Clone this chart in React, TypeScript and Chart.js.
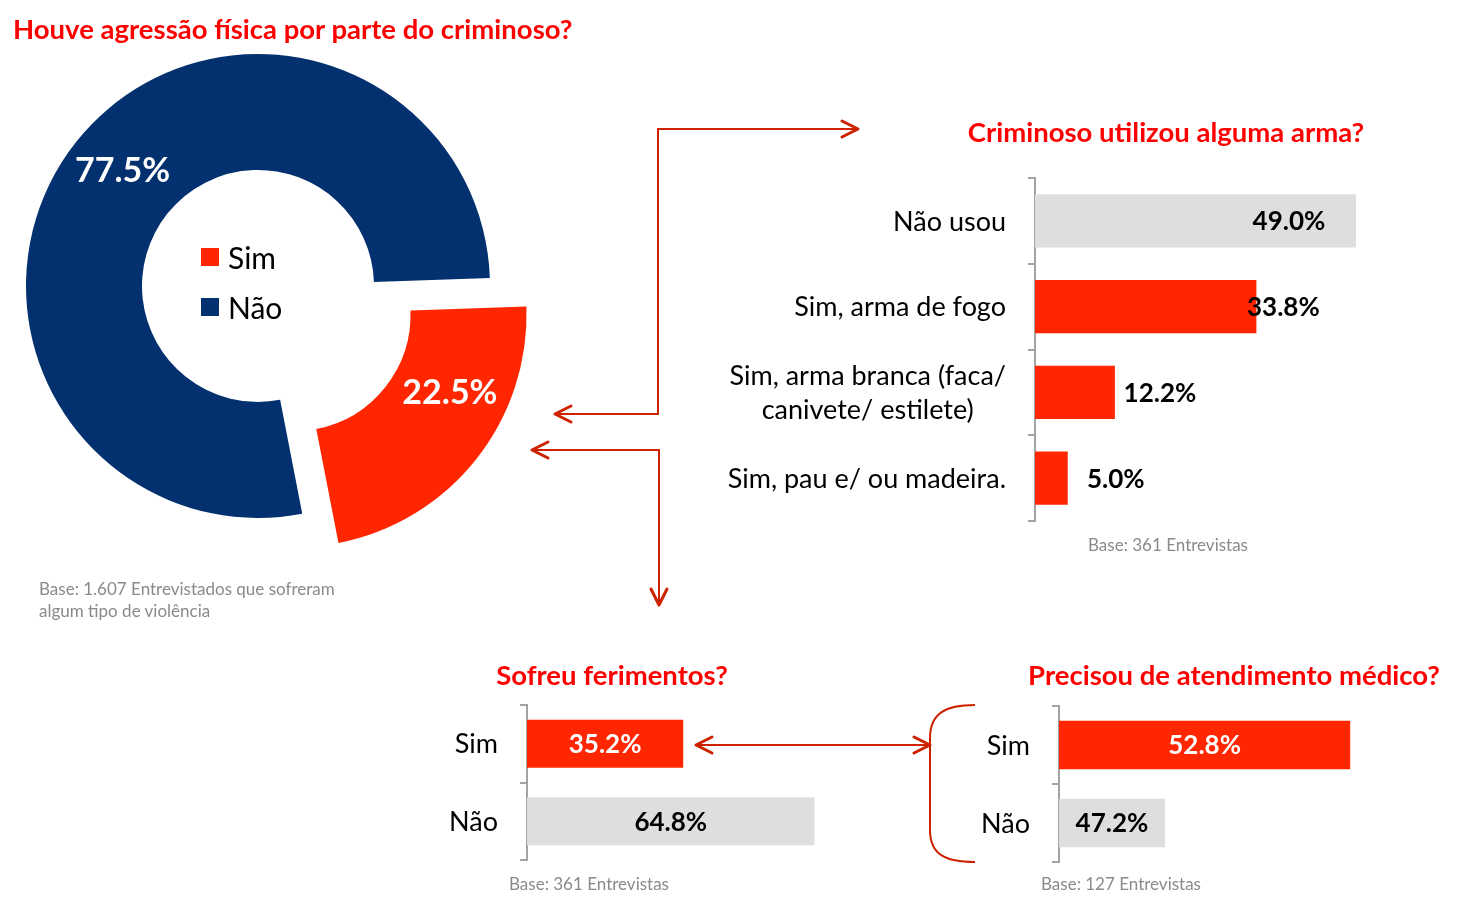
import React, { useEffect, useRef } from "react";
import { Chart, registerables } from "chart.js";
Chart.register(...registerables);

const FONT = "Lato, 'Open Sans', sans-serif";
const RED = "#ff2600";
const NAVY = "#03306f";
const GRAY = "#dedede";
const AXIS = "#a3a3a3";
const TITLE_RED = "#ff0000";
const ARROW = "#cc2200";
const BASE_GRAY = "#8a8a8a";

// ---- data ----
const agressaoLabels = ["Sim", "Não"];
const agressaoValues = [22.5, 77.5];

const armaLabels = [
  ["Não usou"],
  ["Sim, arma de fogo"],
  ["Sim, arma branca (faca/", "canivete/ estilete)"],
  ["Sim, pau e/ ou madeira."],
];
const armaValues = [49.0, 33.8, 12.2, 5.0];

const ferimentosLabels = ["Sim", "Não"];
const ferimentosValues = [35.2, 64.8];

const medicoLabels = ["Sim", "Não"];
const medicoValues = [52.8, 47.2];

const SIM_OFFSET_PX = 46;

const fmt = (v: number) => v.toFixed(1) + "%";

// ---- doughnut ----
const doughnutDecor = {
  id: "doughnutDecor",
  afterDatasetsDraw(chart: any, _args: any, o: any) {
    const ctx = chart.ctx;
    const meta = chart.getDatasetMeta(0);
    const ds = chart.data.datasets[0];
    ctx.save();
    ctx.textAlign = "center";
    ctx.textBaseline = "middle";
    ctx.fillStyle = "#ffffff";
    ctx.font = o.pctFont;
    meta.data.forEach((arc: any, i: number) => {
      const p = arc.getProps(["x", "y", "startAngle", "endAngle", "innerRadius", "outerRadius"], true);
      const mid = (p.startAngle + p.endAngle) / 2;
      const off = o.offsetPx[i] || 0;
      const ang = p.startAngle + (p.endAngle - p.startAngle) * o.labelFrac[i];
      const r = (p.innerRadius + p.outerRadius) / 2 + o.labelDr[i];
      const px = p.x + Math.cos(mid) * off + Math.cos(ang) * r;
      const py = p.y + Math.sin(mid) * off + Math.sin(ang) * r;
      ctx.fillText(fmt(ds.data[i]), px, py + 1);
    });
    // legend in the hole
    const c = meta.data[0];
    const cx = c.x;
    const cy = c.y;
    ctx.font = o.legendFont;
    ctx.textAlign = "left";
    const rows = [-29, 21];
    chart.data.labels.forEach((lab: string, i: number) => {
      ctx.fillStyle = ds.backgroundColor[i];
      ctx.fillRect(cx - 57, cy + rows[i] - 9, 18, 18);
      ctx.fillStyle = "#000";
      ctx.fillText(lab, cx - 30, cy + rows[i] + 2);
    });
    ctx.restore();
  },
};

function doughnutConfig(): any {
  return {
    type: "doughnut",
    data: {
      labels: agressaoLabels,
      datasets: [
        {
          data: agressaoValues,
          backgroundColor: [RED, NAVY],
          borderWidth: 0,
          offset: [SIM_OFFSET_PX * 4, 0],
        },
      ],
    },
    options: {
      animation: false,
      responsive: true,
      maintainAspectRatio: false,
      rotation: 88,
      radius: 232,
      cutout: "50%",
      layout: { padding: { left: 0, right: 84, top: 0, bottom: 28 } },
      plugins: {
        legend: { display: false },
        tooltip: { enabled: false },
        doughnutDecor: {
          pctFont: `bold 34px ${FONT}`,
          legendFont: `30px ${FONT}`,
          offsetPx: [SIM_OFFSET_PX, 0],
          labelFrac: [0.35, 0.507],
          labelDr: [0, 4],
        },
      },
    },
    plugins: [doughnutDecor],
  };
}

// ---- bars ----
const barDecor = {
  id: "barDecor",
  afterDatasetsDraw(chart: any, _args: any, o: any) {
    const ctx = chart.ctx;
    const meta = chart.getDatasetMeta(0);
    const yScale = chart.scales.y;
    const area = chart.chartArea;
    ctx.save();
    ctx.textBaseline = "middle";
    ctx.textAlign = "center";
    ctx.font = o.catFont;
    ctx.fillStyle = "#000";
    chart.data.labels.forEach((lab: any, i: number) => {
      const lines: string[] = Array.isArray(lab) ? lab : [lab];
      const maxW = Math.max(...lines.map((l) => ctx.measureText(l).width));
      const cx = area.left - o.catGap - maxW / 2;
      const cy = yScale.getPixelForValue(i);
      const n = lines.length;
      lines.forEach((l, k) => ctx.fillText(l, cx, cy + (k - (n - 1) / 2) * o.lineHeight + 1));
    });
    ctx.font = o.valFont;
    meta.data.forEach((bar: any, i: number) => {
      const p = bar.getProps(["x", "y", "base"], true);
      const b = Math.max(Math.min(p.base, p.x), area.left);
      const v = chart.data.datasets[0].data[i];
      const px = o.mode === "center" ? (p.x + b) / 2 : p.x + o.dx[i];
      ctx.fillStyle = o.valColors[i];
      ctx.fillText(fmt(v), px, p.y + 1);
    });
    ctx.restore();
  },
};

function barConfig(p: {
  labels: any[];
  values: number[];
  colors: string[];
  valColors: string[];
  mode: string;
  dx?: number[];
  min: number;
  max: number;
  axisWidth: number;
  padding: any;
  catGap: number;
}): any {
  return {
    type: "bar",
    data: {
      labels: p.labels,
      datasets: [
        {
          data: p.values,
          backgroundColor: p.colors,
          borderWidth: 0,
          barPercentage: 0.62,
          categoryPercentage: 1,
        },
      ],
    },
    options: {
      animation: false,
      responsive: true,
      maintainAspectRatio: false,
      indexAxis: "y",
      layout: { padding: p.padding },
      plugins: {
        legend: { display: false },
        tooltip: { enabled: false },
        barDecor: {
          catFont: `27px ${FONT}`,
          valFont: `bold 26px ${FONT}`,
          catGap: p.catGap,
          lineHeight: 34,
          mode: p.mode,
          dx: p.dx || [],
          valColors: p.valColors,
        },
      },
      scales: {
        x: { display: false, min: p.min, max: p.max },
        y: {
          afterFit: (s: any) => {
            s.width = p.axisWidth;
          },
          ticks: { display: false },
          grid: {
            display: true,
            drawOnChartArea: false,
            drawTicks: true,
            tickLength: 7,
            color: AXIS,
            lineWidth: 2,
            offset: true,
          },
          border: { display: true, color: AXIS, width: 2 },
        },
      },
    },
    plugins: [barDecor],
  };
}

function ChartBox(props: { left: number; top: number; width: number; height: number; make: () => any }) {
  const ref = useRef<HTMLCanvasElement>(null);
  useEffect(() => {
    const chart = new Chart(ref.current as HTMLCanvasElement, props.make());
    return () => chart.destroy();
  }, []);
  return (
    <div style={{ position: "absolute", left: props.left, top: props.top, width: props.width, height: props.height }}>
      <canvas ref={ref} />
    </div>
  );
}

function Txt(props: {
  x: number;
  y: number;
  size: number;
  bold?: boolean;
  color: string;
  align?: "left" | "center";
  children: any;
}) {
  return (
    <div
      style={{
        position: "absolute",
        left: props.x,
        top: props.y - 20,
        height: 40,
        lineHeight: "40px",
        fontFamily: FONT,
        fontSize: props.size,
        fontWeight: props.bold ? 700 : 400,
        color: props.color,
        whiteSpace: "nowrap",
        transform: props.align === "center" ? "translateX(-50%)" : undefined,
      }}
    >
      {props.children}
    </div>
  );
}

function Arrows() {
  const head = { strokeWidth: 3, strokeLinecap: "round" as const, strokeLinejoin: "round" as const };
  return (
    <svg width={1457} height={910} style={{ position: "absolute", left: 0, top: 0, pointerEvents: "none" }}>
      <g fill="none" stroke={ARROW} strokeWidth={2}>
        <path d="M556 414 H658 V129 H856" />
        <path d="M571 406 L555 414 L571 422" {...head} />
        <path d="M842 121 L858 129 L842 137" {...head} />
        <path d="M532 450 H659 V603" />
        <path d="M548 442 L532 450 L548 458" {...head} />
        <path d="M651 589 L659 605 L667 589" {...head} />
        <path d="M698 745 H928" />
        <path d="M712 737 L696 745 L712 753" {...head} />
        <path d="M914 737 L930 745 L914 753" {...head} />
        <path d="M975 705 C946 705 930 713 930 738 L930 830 C930 855 946 862 975 862" strokeWidth={2} />
      </g>
    </svg>
  );
}

export default function App() {
  return (
    <div style={{ position: "absolute", left: 0, top: 0, width: 1457, height: 910, background: "#fff", overflow: "hidden" }}>
      <ChartBox left={0} top={0} width={600} height={600} make={doughnutConfig} />
      <ChartBox
        left={700}
        top={170}
        width={740}
        height={370}
        make={() =>
          barConfig({
            labels: armaLabels,
            values: armaValues,
            colors: [GRAY, RED, RED, RED],
            valColors: ["#000", "#000", "#000", "#000"],
            mode: "end",
            dx: [-67, 27, 45, 48],
            min: 0,
            max: 60,
            axisWidth: 335,
            padding: { left: 0, right: 12, top: 8, bottom: 19 },
            catGap: 29,
          })
        }
      />
      <ChartBox
        left={420}
        top={695}
        width={470}
        height={180}
        make={() =>
          barConfig({
            labels: ferimentosLabels,
            values: ferimentosValues,
            colors: [RED, GRAY],
            valColors: ["#fff", "#000"],
            mode: "center",
            min: 0,
            max: 80,
            axisWidth: 107,
            padding: { left: 0, right: 8, top: 10, bottom: 15 },
            catGap: 29,
          })
        }
      />
      <ChartBox
        left={950}
        top={696}
        width={490}
        height={180}
        make={() =>
          barConfig({
            labels: medicoLabels,
            values: medicoValues,
            colors: [RED, GRAY],
            valColors: ["#fff", "#000"],
            mode: "center",
            min: 44,
            max: 55,
            axisWidth: 109,
            padding: { left: 0, right: 17, top: 10, bottom: 14 },
            catGap: 29,
          })
        }
      />
      <Arrows />
      <Txt x={13} y={29} size={27.5} bold color={TITLE_RED}>
        Houve agressão física por parte do criminoso?
      </Txt>
      <Txt x={1166} y={132} size={27.5} bold color={TITLE_RED} align="center">
        Criminoso utilizou alguma arma?
      </Txt>
      <Txt x={612} y={675} size={27.5} bold color={TITLE_RED} align="center">
        Sofreu ferimentos?
      </Txt>
      <Txt x={1234} y={675} size={27.5} bold color={TITLE_RED} align="center">
        Precisou de atendimento médico?
      </Txt>
      <Txt x={39} y={589} size={17} color={BASE_GRAY}>
        Base: 1.607 Entrevistados que sofreram
      </Txt>
      <Txt x={39} y={611} size={17} color={BASE_GRAY}>
        algum tipo de violência
      </Txt>
      <Txt x={1168} y={545} size={17} color={BASE_GRAY} align="center">
        Base: 361 Entrevistas
      </Txt>
      <Txt x={589} y={884} size={17} color={BASE_GRAY} align="center">
        Base: 361 Entrevistas
      </Txt>
      <Txt x={1121} y={884} size={17} color={BASE_GRAY} align="center">
        Base: 127 Entrevistas
      </Txt>
    </div>
  );
}
